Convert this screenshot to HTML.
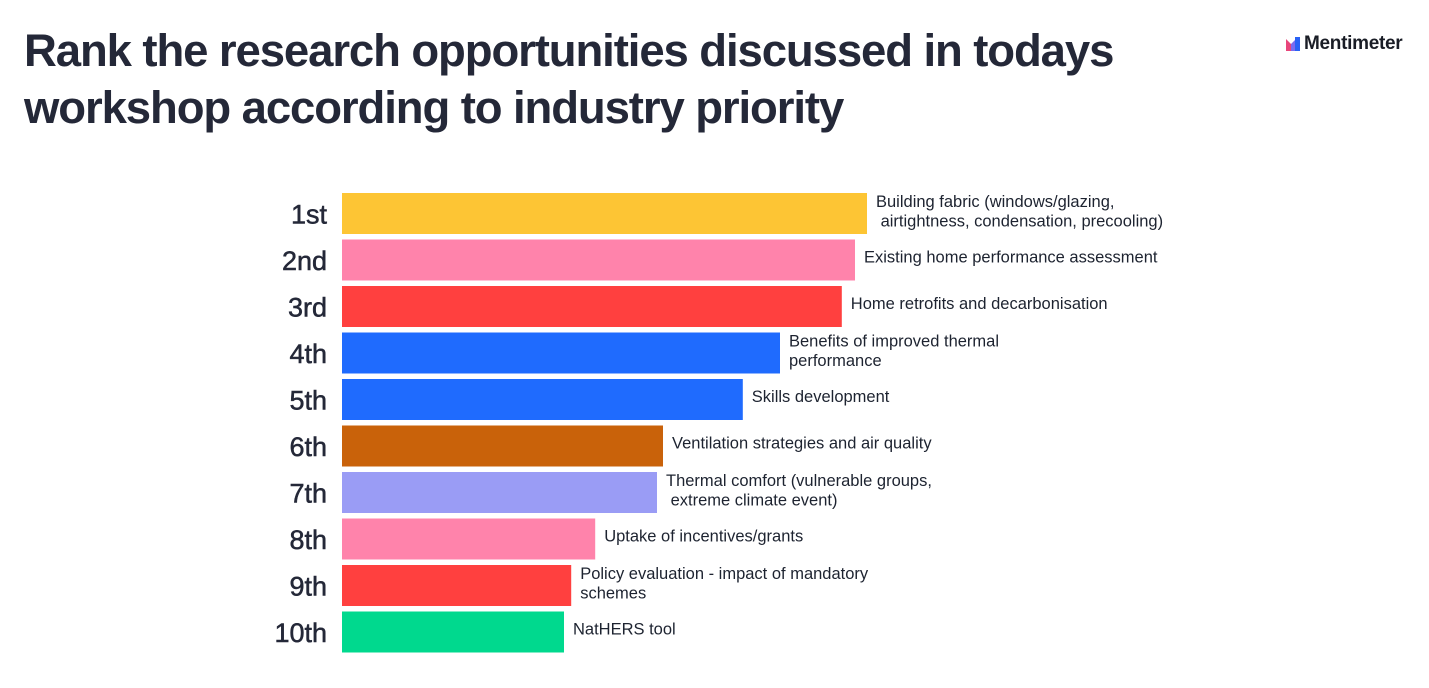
<!DOCTYPE html>
<html><head><meta charset="utf-8">
<style>
html,body{margin:0;padding:0;background:#fff;}
body{width:1429px;height:688px;position:relative;overflow:hidden;font-family:"Liberation Sans",sans-serif;color:#1d2330;}
#title{position:absolute;left:24px;top:22px;font-size:45.5px;line-height:57px;font-weight:bold;letter-spacing:-1.1px;color:#242838;}
#logo{position:absolute;left:1286px;top:33px;font-size:19px;font-weight:bold;color:#1a1d26;letter-spacing:-0.3px;}
#logo svg{vertical-align:-2px;margin-right:4px;}
svg#chart{position:absolute;left:0;top:0;}
</style></head><body>
<div id="title">Rank the research opportunities discussed in todays<br>workshop according to industry priority</div>
<div id="logo"><svg width="14" height="14" viewBox="0 0 14 14"><path d="M0 2 L5 7 L5 14 L0 14Z" fill="#e8467b"/><path d="M5 7 L9 3 L9 14 L5 14Z" fill="#7a6cf0"/><path d="M9 0 L14 0 L14 14 L9 14Z" fill="#2a62f5"/></svg>Mentimeter</div>
<svg id="chart" width="1429" height="688"></svg>
<script>
const ranks=["1st","2nd","3rd","4th","5th","6th","7th","8th","9th","10th"];
const scores=[8.75,8.55,8.33,7.30,6.68,5.35,5.25,4.22,3.82,3.70];
const labels=[["Building fabric (windows/glazing,"," airtightness, condensation, precooling)"],["Existing home performance assessment"],["Home retrofits and decarbonisation"],["Benefits of improved thermal","performance"],["Skills development"],["Ventilation strategies and air quality"],["Thermal comfort (vulnerable groups,"," extreme climate event)"],["Uptake of incentives/grants"],["Policy evaluation - impact of mandatory","schemes"],["NatHERS tool"]];
const colors=["#fdc534","#ff83ab","#ff403f","#1f6bfe","#1f6bfe","#c9620a","#9a9cf5","#ff83ab","#ff403f","#00d98e"];
const svg=document.getElementById('chart');
const NS='http://www.w3.org/2000/svg';
const x0=342,unit=60,y0=193,pitch=46.5,bh=41;
const xs=v=>x0+v*unit, ys=i=>y0+i*pitch;
ranks.forEach((r,i)=>{
 const rect=document.createElementNS(NS,'rect');
 rect.setAttribute('x',x0);rect.setAttribute('y',ys(i));
 rect.setAttribute('width',xs(scores[i])-x0);rect.setAttribute('height',bh);
 rect.setAttribute('fill',colors[i]);
 
 
 svg.appendChild(rect);
 const t=document.createElementNS(NS,'text');
 t.setAttribute('x',327);t.setAttribute('y',ys(i)+bh/2+10);
 t.setAttribute('text-anchor','end');t.setAttribute('font-size','27');
 t.setAttribute('stroke','#242838');t.setAttribute('stroke-width','0.5');
 t.setAttribute('font-family','Liberation Sans, sans-serif');t.setAttribute('fill','#242838');
 t.textContent=r;
 
 
 svg.appendChild(t);
 const lines=labels[i];
 const lt=document.createElementNS(NS,'text');
 lt.setAttribute('font-size','16.5');lt.setAttribute('font-family','Liberation Sans, sans-serif');lt.setAttribute('fill','#1d2330');
 lt.setAttribute('xml:space','preserve');
 const startY=lines.length>1?ys(i)+14:ys(i)+23;
 lines.forEach((ln,k)=>{
  const ts=document.createElementNS(NS,'tspan');
  ts.setAttribute('x',xs(scores[i])+9);ts.setAttribute('y',startY+k*19.5);
  ts.textContent=ln;lt.appendChild(ts);
 });
 
 
 svg.appendChild(lt);
});
</script>
</body></html>
